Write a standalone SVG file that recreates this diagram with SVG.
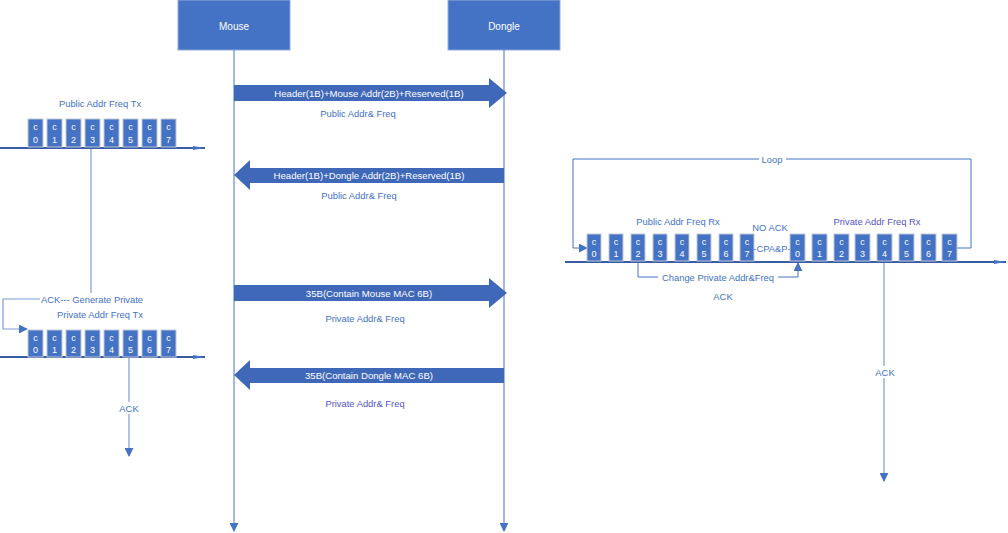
<svg xmlns="http://www.w3.org/2000/svg" width="1008" height="533" viewBox="0 0 1008 533">
<defs>
<marker id="ah" viewBox="0 0 10 10" refX="9" refY="5" markerWidth="9" markerHeight="9" markerUnits="userSpaceOnUse" orient="auto"><path d="M0,0 L10,5 L0,10 z" fill="#4472C4"/></marker>
<marker id="axh" viewBox="0 0 12 6" refX="12" refY="3" markerWidth="14" markerHeight="6" markerUnits="userSpaceOnUse" orient="auto"><path d="M0,1 L12,3 L0,5 z" fill="#4472C4"/></marker>
</defs>
<style>
text{font-family:"Liberation Sans",Arial,sans-serif;font-size:9.4px;text-anchor:middle;dominant-baseline:central}
.box{fill:#4472C4;stroke:#8FAADC;stroke-width:1}
.bw{fill:#fff;font-size:10px}
.barr{fill:#4068B8}
.wt{fill:#fff;font-size:9.6px}
.lbl{fill:#4472C4}
.plbl{fill:#5455C4}
.ln{fill:none;stroke:#4472C4;stroke-width:1}
.lnl{fill:none;stroke:#7F9BD6;stroke-width:1.2}
.axis{stroke:#3A5BA6;stroke-width:2;fill:none}
.slot{fill:#4472C4;stroke:#BFC7D6;stroke-width:1}
.st{fill:#fff;font-size:9px}
.bg{fill:#fff}
</style>
<g id="mouse"><rect class="box" x="178" y="0" width="112" height="50"/><text class="bw" x="234" y="26">Mouse</text></g>
<g id="dongle"><rect class="box" x="448" y="0" width="112" height="50"/><text class="bw" x="504" y="26">Dongle</text></g>
<g id="connectors">
<line class="ln" x1="234" y1="50" x2="234" y2="531" marker-end="url(#ah)"/>
<line class="ln" x1="504" y1="50" x2="504" y2="531" marker-end="url(#ah)"/>
<path class="lnl" d="M91,148 V299 H3 V329 H27" marker-end="url(#ah)"/>
<line class="lnl" x1="129" y1="357" x2="129" y2="456" marker-end="url(#ah)"/>
<path class="ln" d="M955,248 H971 V159 H573 V248 H587" marker-end="url(#ah)"/>
<path class="ln" d="M638,262 V277 H798 V263" marker-end="url(#ah)"/>
<line class="lnl" x1="884" y1="263" x2="884" y2="481" marker-end="url(#ah)"/>
</g>
<g id="msg1"><path class="barr" d="M234,85 H489 V78 L507,93 L489,108 V101 H234 z"/><text class="wt" x="369" y="93">Header(1B)+Mouse Addr(2B)+Reserved(1B)</text><text class="lbl" x="358" y="113">Public Addr&amp; Freq</text></g>
<g id="msg2"><path class="barr" d="M504,168 H250 V160 L234,175 L250,190 V183 H504 z"/><text class="wt" x="369" y="175">Header(1B)+Dongle Addr(2B)+Reserved(1B)</text><text class="lbl" x="359" y="195">Public Addr&amp; Freq</text></g>
<g id="msg3"><path class="barr" d="M234,285 H489 V278 L507,293 L489,308 V301 H234 z"/><text class="wt" x="369" y="293">35B(Contain Mouse MAC 6B)</text><text class="lbl" x="365" y="318">Private Addr&amp; Freq</text></g>
<g id="msg4"><path class="barr" d="M504,368 H250 V360 L234,375 L250,390 V383 H504 z"/><text class="wt" x="369" y="375">35B(Contain Dongle MAC 6B)</text><text class="plbl" x="365" y="403">Private Addr&amp; Freq</text></g>
<g id="pubTx">
<text class="lbl" x="100" y="103">Public Addr Freq Tx</text>
<line class="axis" x1="0" y1="148" x2="205" y2="148" marker-end="url(#axh)"/>
<rect class="slot" x="28" y="119" width="15" height="28"/><text class="st" x="35.5" y="127">c</text><text class="st" x="35.5" y="140">0</text>
<rect class="slot" x="47" y="119" width="15" height="28"/><text class="st" x="54.5" y="127">c</text><text class="st" x="54.5" y="140">1</text>
<rect class="slot" x="66" y="119" width="15" height="28"/><text class="st" x="73.5" y="127">c</text><text class="st" x="73.5" y="140">2</text>
<rect class="slot" x="85" y="119" width="15" height="28"/><text class="st" x="92.5" y="127">c</text><text class="st" x="92.5" y="140">3</text>
<rect class="slot" x="104" y="119" width="15" height="28"/><text class="st" x="111.5" y="127">c</text><text class="st" x="111.5" y="140">4</text>
<rect class="slot" x="123" y="119" width="15" height="28"/><text class="st" x="130.5" y="127">c</text><text class="st" x="130.5" y="140">5</text>
<rect class="slot" x="142" y="119" width="15" height="28"/><text class="st" x="149.5" y="127">c</text><text class="st" x="149.5" y="140">6</text>
<rect class="slot" x="161" y="119" width="15" height="28"/><text class="st" x="168.5" y="127">c</text><text class="st" x="168.5" y="140">7</text>
</g>
<g id="ackGen"><rect class="bg" x="40" y="293" width="106" height="12"/><text class="lbl" x="92" y="299">ACK--- Generate Private</text></g>
<g id="privTx">
<text class="lbl" x="100" y="314">Private Addr Freq Tx</text>
<line class="axis" x1="0" y1="357" x2="205" y2="357" marker-end="url(#axh)"/>
<rect class="slot" x="28" y="330" width="15" height="27"/><text class="st" x="35.5" y="338">c</text><text class="st" x="35.5" y="350">0</text>
<rect class="slot" x="47" y="330" width="15" height="27"/><text class="st" x="54.5" y="338">c</text><text class="st" x="54.5" y="350">1</text>
<rect class="slot" x="66" y="330" width="15" height="27"/><text class="st" x="73.5" y="338">c</text><text class="st" x="73.5" y="350">2</text>
<rect class="slot" x="85" y="330" width="15" height="27"/><text class="st" x="92.5" y="338">c</text><text class="st" x="92.5" y="350">3</text>
<rect class="slot" x="104" y="330" width="15" height="27"/><text class="st" x="111.5" y="338">c</text><text class="st" x="111.5" y="350">4</text>
<rect class="slot" x="123" y="330" width="15" height="27"/><text class="st" x="130.5" y="338">c</text><text class="st" x="130.5" y="350">5</text>
<rect class="slot" x="142" y="330" width="15" height="27"/><text class="st" x="149.5" y="338">c</text><text class="st" x="149.5" y="350">6</text>
<rect class="slot" x="161" y="330" width="15" height="27"/><text class="st" x="168.5" y="338">c</text><text class="st" x="168.5" y="350">7</text>
</g>
<g id="ackLeft"><rect class="bg" x="117" y="402" width="24" height="12"/><text class="lbl" x="129" y="408">ACK</text></g>
<g id="loop"><rect class="bg" x="759" y="153" width="27" height="12"/><text class="lbl" x="772" y="159">Loop</text></g>
<g id="rx">
<text class="lbl" x="678" y="221">Public Addr Freq Rx</text>
<text class="lbl" x="770" y="227">NO ACK</text>
<text class="plbl" x="877" y="221">Private Addr Freq Rx</text>
<line class="axis" x1="565" y1="262" x2="1006" y2="262" marker-end="url(#axh)"/>
<rect class="slot" x="587" y="234" width="14" height="27"/><text class="st" x="594" y="242">c</text><text class="st" x="594" y="254">0</text>
<rect class="slot" x="609" y="234" width="14" height="27"/><text class="st" x="616" y="242">c</text><text class="st" x="616" y="254">1</text>
<rect class="slot" x="631" y="234" width="14" height="27"/><text class="st" x="638" y="242">c</text><text class="st" x="638" y="254">2</text>
<rect class="slot" x="653" y="234" width="14" height="27"/><text class="st" x="660" y="242">c</text><text class="st" x="660" y="254">3</text>
<rect class="slot" x="675" y="234" width="14" height="27"/><text class="st" x="682" y="242">c</text><text class="st" x="682" y="254">4</text>
<rect class="slot" x="697" y="234" width="14" height="27"/><text class="st" x="704" y="242">c</text><text class="st" x="704" y="254">5</text>
<rect class="slot" x="719" y="234" width="14" height="27"/><text class="st" x="726" y="242">c</text><text class="st" x="726" y="254">6</text>
<rect class="slot" x="740" y="234" width="14" height="27"/><text class="st" x="747" y="242">c</text><text class="st" x="747" y="254">7</text>
<text class="lbl" x="772" y="248">-CPA&amp;P-</text>
<rect class="slot" x="790" y="234" width="15" height="27"/><text class="st" x="797.5" y="242">c</text><text class="st" x="797.5" y="254">0</text>
<rect class="slot" x="812" y="234" width="15" height="27"/><text class="st" x="819.5" y="242">c</text><text class="st" x="819.5" y="254">1</text>
<rect class="slot" x="834" y="234" width="15" height="27"/><text class="st" x="841.5" y="242">c</text><text class="st" x="841.5" y="254">2</text>
<rect class="slot" x="855" y="234" width="15" height="27"/><text class="st" x="862.5" y="242">c</text><text class="st" x="862.5" y="254">3</text>
<rect class="slot" x="877" y="234" width="15" height="27"/><text class="st" x="884.5" y="242">c</text><text class="st" x="884.5" y="254">4</text>
<rect class="slot" x="899" y="234" width="15" height="27"/><text class="st" x="906.5" y="242">c</text><text class="st" x="906.5" y="254">5</text>
<rect class="slot" x="921" y="234" width="15" height="27"/><text class="st" x="928.5" y="242">c</text><text class="st" x="928.5" y="254">6</text>
<rect class="slot" x="942" y="234" width="15" height="27"/><text class="st" x="949.5" y="242">c</text><text class="st" x="949.5" y="254">7</text>
</g>
<g id="change"><rect class="bg" x="658" y="271" width="120" height="12"/><text class="lbl" x="718" y="277">Change Private Addr&amp;Freq</text><text class="lbl" x="723" y="296">ACK</text></g>
<g id="ackRight"><rect class="bg" x="873" y="366" width="24" height="12"/><text class="lbl" x="885" y="372">ACK</text></g>
</svg>
